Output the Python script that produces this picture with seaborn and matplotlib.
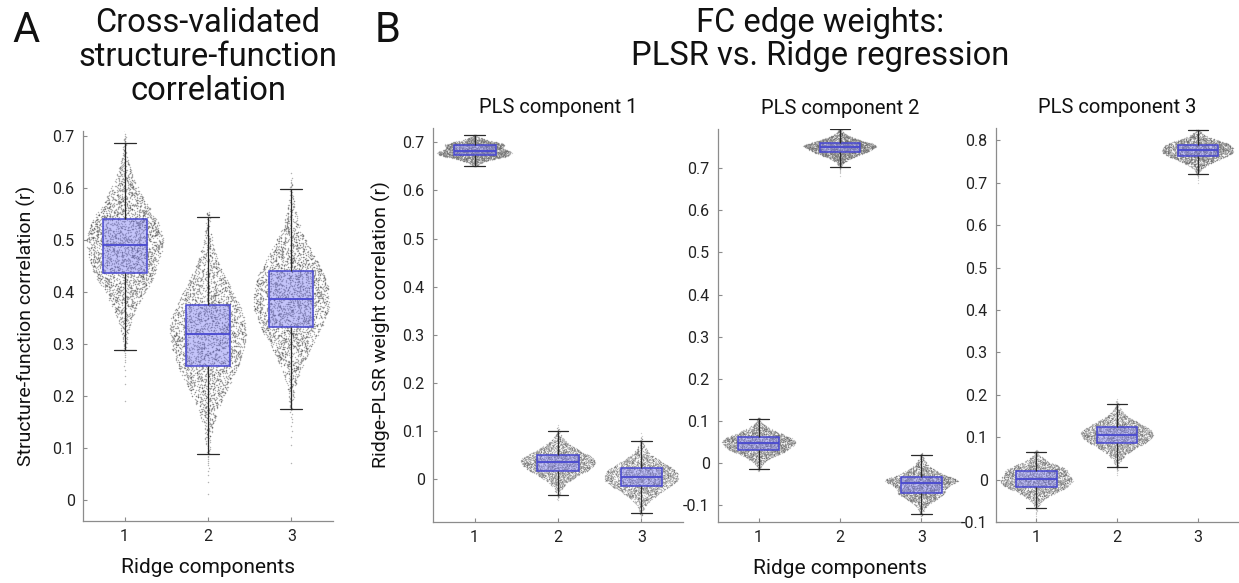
import numpy as np
import pandas as pd
import matplotlib
matplotlib.use("Agg")
import matplotlib.pyplot as plt
import seaborn as sns
from statistics import NormalDist

# ---------------- data (summary statistics) ----------------
components = ["1", "2", "3"]

# Panel A: cross-validated structure-function correlation
a_min = [0.19, 0.01, 0.07]
a_wlo = [0.287, 0.085, 0.173]
a_q1 = [0.437, 0.259, 0.333]
a_med = [0.490, 0.319, 0.387]
a_q3 = [0.540, 0.376, 0.441]
a_whi = [0.690, 0.548, 0.602]
a_max = [0.712, 0.555, 0.630]

# Panel B, PLS component 1
b1_min = [0.650, -0.045, -0.080]
b1_wlo = [0.650, -0.035, -0.073]
b1_q1 = [0.673, 0.017, -0.015]
b1_med = [0.682, 0.034, 0.004]
b1_q3 = [0.694, 0.050, 0.023]
b1_whi = [0.716, 0.101, 0.080]
b1_max = [0.716, 0.112, 0.095]

# Panel B, PLS component 2
b2_min = [-0.020, 0.680, -0.130]
b2_wlo = [-0.014, 0.702, -0.121]
b2_q1 = [0.031, 0.738, -0.070]
b2_med = [0.047, 0.750, -0.048]
b2_q3 = [0.062, 0.760, -0.034]
b2_whi = [0.106, 0.793, 0.020]
b2_max = [0.106, 0.793, 0.025]

# Panel B, PLS component 3
b3_min = [-0.095, 0.010, 0.700]
b3_wlo = [-0.068, 0.029, 0.721]
b3_q1 = [-0.017, 0.087, 0.762]
b3_med = [0.001, 0.106, 0.776]
b3_q3 = [0.021, 0.124, 0.790]
b3_whi = [0.066, 0.179, 0.825]
b3_max = [0.070, 0.190, 0.825]

pls_titles = ["PLS component 1", "PLS component 2", "PLS component 3"]
panel_b_stats = [
    (b1_min, b1_wlo, b1_q1, b1_med, b1_q3, b1_whi, b1_max),
    (b2_min, b2_wlo, b2_q1, b2_med, b2_q3, b2_whi, b2_max),
    (b3_min, b3_wlo, b3_q1, b3_med, b3_q3, b3_whi, b3_max),
]
panel_a_stats = (a_min, a_wlo, a_q1, a_med, a_q3, a_whi, a_max)

# ---------------- helpers ----------------
N = 3000
ZW = 2.7
ZK = [-3.6, -ZW, -0.6745, 0.0, 0.6745, ZW, 3.6]
_nd = NormalDist()
_P = (np.arange(N) + 0.5) / N
_Z = np.array([_nd.inv_cdf(p) for p in _P])
WHIS = (100 * _nd.cdf(-ZW), 100 * _nd.cdf(ZW))


def sample_from_stats(stats, i):
    knots = [s[i] for s in stats]
    return np.interp(_Z, ZK, knots)


def long_frame(stats):
    frames = []
    for i, c in enumerate(components):
        frames.append(pd.DataFrame({"comp": c, "val": sample_from_stats(stats, i)}))
    return pd.concat(frames, ignore_index=True)


def half_widths(v):
    sd = v.std()
    iqr = np.subtract(*np.percentile(v, [75, 25]))
    bw = 1.2 * 0.9 * min(sd, iqr / 1.34) * len(v) ** -0.2
    grid = np.linspace(v.min() - 3 * bw, v.max() + 3 * bw, 300)
    dens = np.exp(-0.5 * ((grid[:, None] - v[None, :]) / bw) ** 2).sum(axis=1)
    dens /= dens.max()
    return np.interp(v, grid, dens)


def draw_panel(ax, stats, maxhalf, dot_color, dot_alpha, dot_size, box_w):
    df = long_frame(stats)
    for i, c in enumerate(components):
        v = df.loc[df["comp"] == c, "val"].to_numpy()
        hw = half_widths(v) * maxhalf
        k = np.arange(len(v))
        u = (np.sin(k * 12.9898 + (i + 1) * 78.233) * 43758.5453) % 1.0
        u = 2 * u - 1
        ax.scatter(i + hw * u, v, s=dot_size, c=dot_color, alpha=dot_alpha,
                   linewidths=0, zorder=0.5, rasterized=True)
    sns.boxplot(data=df, x="comp", y="val", order=components, ax=ax,
                width=box_w, whis=WHIS, showfliers=False, linewidth=1.1,
                boxprops=dict(facecolor=(0.45, 0.45, 0.95, 0.42),
                              edgecolor="#4848d0", zorder=2),
                medianprops=dict(color="#4848d0", linewidth=1.3, zorder=3),
                whiskerprops=dict(color="#2a2a2a", linewidth=0.9, zorder=2.5),
                capprops=dict(color="#2a2a2a", linewidth=0.9, zorder=2.5))
    ax.set_xlim(-0.5, 2.5)
    ax.set_xlabel("")
    ax.set_ylabel("")
    sns.despine(ax=ax)


# ---------------- style ----------------
sns.set_style("ticks", {
    "axes.edgecolor": "#8c8c8c",
    "xtick.direction": "in",
    "ytick.direction": "in",
    "xtick.color": "#8c8c8c",
    "ytick.color": "#8c8c8c",
})
plt.rcParams["font.family"] = ["Roboto", "DejaVu Sans"]
plt.rcParams["xtick.labelcolor"] = "#222222"
plt.rcParams["ytick.labelcolor"] = "#222222"
plt.rcParams["axes.linewidth"] = 0.9
plt.rcParams["xtick.major.size"] = 3
plt.rcParams["ytick.major.size"] = 3

W, H = 1239, 583
fig = plt.figure(figsize=(W / 100, H / 100), dpi=100)


def rect(l, r, t, b):
    return [l / W, 1 - b / H, (r - l) / W, (b - t) / H]


TICK_FS = 11.5
LABEL_FS = 14
TXT = "#111111"

# Panel A
axA = fig.add_axes(rect(83, 333, 131, 521))
draw_panel(axA, panel_a_stats, 0.46, "#4a4a4a", 0.42, 1.1, 0.53)
axA.set_ylim(-0.04, 0.71)
axA.set_yticks(np.arange(0, 0.71, 0.1))
axA.set_yticklabels(["0", "0.1", "0.2", "0.3", "0.4", "0.5", "0.6", "0.7"])
axA.tick_params(labelsize=TICK_FS, pad=6)
axA.set_ylabel("Structure-function correlation (r)", fontsize=LABEL_FS, color=TXT,
               labelpad=12)
axA.set_xlabel("Ridge components", fontsize=LABEL_FS + 1, color=TXT, labelpad=10)

# Panel B
b_rects = [rect(433, 683, 128, 522), rect(718, 962, 129, 522), rect(996, 1238, 128, 522)]
b_ylims = [(-0.09, 0.73), (-0.140, 0.793), (-0.10, 0.829)]
b_ticks = [np.arange(0, 0.71, 0.1), np.arange(-0.1, 0.71, 0.1), np.arange(-0.1, 0.81, 0.1)]


def fmt(t):
    t = round(t, 1)
    if t == 0:
        return "0"
    return f"{t:.1f}"


for j in range(3):
    ax = fig.add_axes(b_rects[j])
    draw_panel(ax, panel_b_stats[j], 0.45, "#6a6a6a", 0.33, 0.9, 0.5)
    ax.set_ylim(*b_ylims[j])
    ax.set_yticks(b_ticks[j])
    ax.set_yticklabels([fmt(t) for t in b_ticks[j]])
    ax.tick_params(labelsize=TICK_FS, pad=6)
    ax.set_title(pls_titles[j], fontsize=14.5, color=TXT, pad=11)
    if j == 0:
        ax.set_ylabel("Ridge-PLSR weight correlation (r)", fontsize=LABEL_FS, color=TXT,
                      labelpad=8)
    if j == 1:
        ax.set_xlabel("Ridge components", fontsize=LABEL_FS + 1, color=TXT, labelpad=10)

# Panel letters and titles
fig.text(12 / W, 1 - 42 / H, "A", fontsize=30, va="baseline", ha="left", color=TXT)
fig.text(375 / W, 1 - 42 / H, "B", fontsize=30, va="baseline", ha="left", color=TXT)
for k, line in enumerate(["Cross-validated", "structure-function", "correlation"]):
    fig.text(208 / W, 1 - (32 + 34 * k) / H, line, fontsize=23.5, va="baseline",
             ha="center", color=TXT)
for k, line in enumerate(["FC edge weights:", "PLSR vs. Ridge regression"]):
    fig.text(820 / W, 1 - (32 + 33 * k) / H, line, fontsize=23.5, va="baseline",
             ha="center", color=TXT)

fig.savefig("out.png", dpi=100, facecolor="white")
